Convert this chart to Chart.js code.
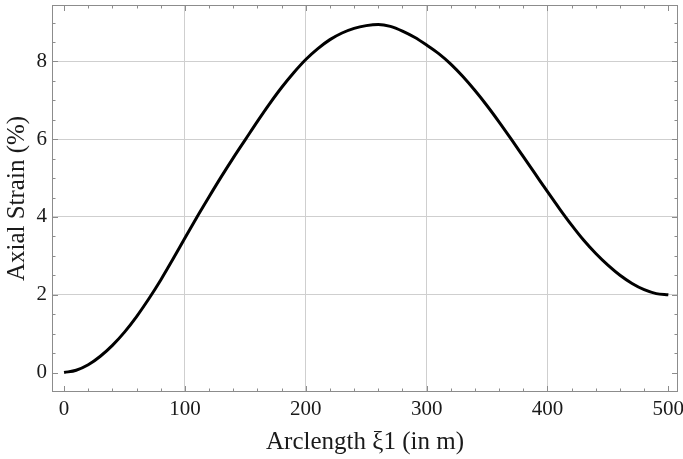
<!DOCTYPE html>
<html>
<head>
<meta charset="utf-8">
<script src="https://cdn.jsdelivr.net/npm/chart.js@4"></script>
<style>
  html, body { margin: 0; padding: 0; background: #fff; }
  #wrap { width: 683px; height: 459px; }
</style>
</head>
<body>
<div id="wrap"><canvas id="strain-chart"></canvas></div>
<script>
// arclength (m) and axial strain (%)
const arclength = [0, 10, 20, 30, 40, 50, 60, 70, 80, 90,
  100, 110, 120, 130, 140, 150, 160, 170, 180, 190,
  200, 210, 220, 230, 240, 250, 260, 270, 280, 290,
  300, 310, 320, 330, 340, 350, 360, 370, 380, 390,
  400, 410, 420, 430, 440, 450, 460, 470, 480, 490, 500];
const strain = [0, 0.06, 0.20, 0.42, 0.70, 1.04, 1.44, 1.89, 2.38, 2.91,
  3.46, 4.00, 4.52, 5.03, 5.52, 5.99, 6.46, 6.91, 7.33, 7.71,
  8.05, 8.33, 8.56, 8.73, 8.85, 8.92, 8.95, 8.90, 8.78, 8.62,
  8.42, 8.20, 7.93, 7.61, 7.25, 6.86, 6.44, 6.00, 5.55, 5.10,
  4.65, 4.21, 3.79, 3.40, 3.06, 2.76, 2.50, 2.29, 2.13, 2.03, 2.0];

const xTickLabels = [0, 100, 200, 300, 400, 500];
const yTickLabels = [0, 2, 4, 6, 8];
const xGridLines = [100, 200, 300, 400];
const yGridLines = [2, 4, 6, 8];

const serif = "'Liberation Serif', 'DejaVu Serif', serif";
const near = (v, list) => list.some(t => Math.abs(t - v) < 1e-6);

// frame + inward ticks on all four sides
const frameTicks = {
  id: 'frameTicks',
  afterDraw(chart) {
    const { ctx, chartArea: a, scales } = chart;
    const xs = scales.x, ys = scales.y;
    ctx.save();
    ctx.strokeStyle = '#8c8c8c';
    ctx.lineWidth = 1;
    ctx.beginPath();
    for (let v = 0; v <= 500; v += 20) {
      const px = Math.round(xs.getPixelForValue(v)) + 0.5;
      const len = near(v, xTickLabels) ? 6 : 3.5;
      ctx.moveTo(px, a.bottom); ctx.lineTo(px, a.bottom - len);
      ctx.moveTo(px, a.top); ctx.lineTo(px, a.top + len);
    }
    for (let v = 0; v <= 9; v += 0.5) {
      const py = Math.round(ys.getPixelForValue(v)) + 0.5;
      const len = near(v, yTickLabels) ? 6 : 3.5;
      ctx.moveTo(a.left, py); ctx.lineTo(a.left + len, py);
      ctx.moveTo(a.right, py); ctx.lineTo(a.right - len, py);
    }
    ctx.stroke();
    ctx.strokeRect(Math.round(a.left) + 0.5, Math.round(a.top) + 0.5,
      Math.round(a.right - a.left) - 1, Math.round(a.bottom - a.top) - 1);
    ctx.restore();
  }
};

new Chart(document.getElementById('strain-chart'), {
  type: 'line',
  data: {
    datasets: [{
      data: arclength.map((x, i) => ({ x: x, y: strain[i] })),
      borderColor: '#000',
      borderWidth: 3,
      pointRadius: 0,
      cubicInterpolationMode: 'monotone',
      fill: false
    }]
  },
  options: {
    responsive: true,
    maintainAspectRatio: false,
    animation: false,
    layout: { padding: { left: 0, right: 5, top: 5, bottom: 0 } },
    plugins: { legend: { display: false }, tooltip: { enabled: false } },
    scales: {
      x: {
        type: 'linear',
        min: -10,
        max: 508,
        afterFit(scale) {
          scale.height = 67;
          scale.paddingLeft = 0;
          scale.paddingRight = 0;
        },
        afterBuildTicks(scale) { scale.ticks = xTickLabels.map(v => ({ value: v })); },
        border: { display: false },
        grid: {
          drawTicks: false,
          color: c => near(c.tick.value, xGridLines) ? '#cfcfcf' : 'rgba(0,0,0,0)',
          lineWidth: 1
        },
        ticks: {
          padding: 5,
          maxRotation: 0,
          color: '#1a1a1a',
          font: { family: serif, size: 21 }
        },
        title: {
          display: true,
          text: 'Arclength ξ1 (in m)',
          color: '#1a1a1a',
          font: { family: serif, size: 25 },
          padding: { top: 0, bottom: 2 }
        }
      },
      y: {
        min: -0.5,
        max: 9.45,
        afterFit(scale) {
          scale.width = 52;
          scale.paddingTop = 0;
          scale.paddingBottom = 0;
        },
        afterBuildTicks(scale) { scale.ticks = yTickLabels.map(v => ({ value: v })); },
        border: { display: false },
        grid: {
          drawTicks: false,
          color: c => near(c.tick.value, yGridLines) ? '#cfcfcf' : 'rgba(0,0,0,0)',
          lineWidth: 1
        },
        ticks: {
          padding: 5,
          color: '#1a1a1a',
          font: { family: serif, size: 21 }
        },
        title: {
          display: true,
          text: 'Axial Strain (%)',
          color: '#1a1a1a',
          font: { family: serif, size: 25 },
          padding: { top: 2, bottom: 0 }
        }
      }
    }
  },
  plugins: [frameTicks]
});
</script>
</body>
</html>
